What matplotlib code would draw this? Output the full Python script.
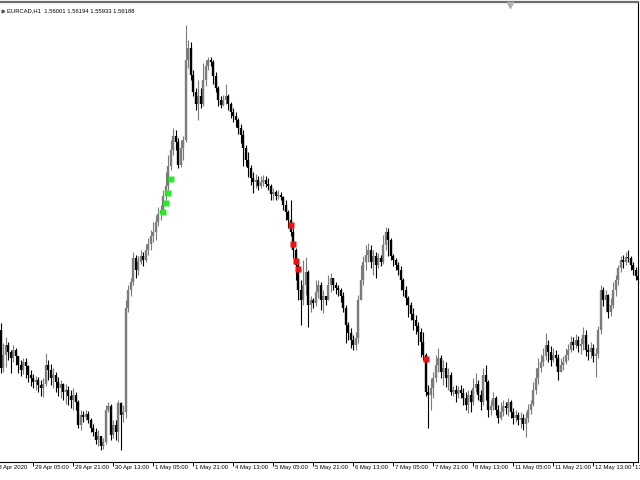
import numpy as np
import matplotlib
matplotlib.use('Agg')
import matplotlib.pyplot as plt
from matplotlib.lines import Line2D
from matplotlib.transforms import ScaledTranslation

# EURCAD H1 candles, 28 Apr 16:00 .. 13 May 2020
symbol = 'EURCAD,H1'
header_quote = ['1.56001', '1.56194', '1.55933', '1.56188']

first_open = 1.5570
close = [
    1.5532, 1.5545, 1.5555, 1.5548, 1.5542, 1.5550, 1.5544, 1.5535, 1.5530, 1.5538,
    1.5534, 1.5525, 1.5522, 1.5518, 1.5520, 1.5515, 1.5512, 1.5516, 1.5535, 1.5530,
    1.5522, 1.5525, 1.5518, 1.5512, 1.5516, 1.5508, 1.5510, 1.5504, 1.5500, 1.5505,
    1.5498, 1.5475, 1.5485, 1.5483, 1.5486, 1.5480, 1.5472, 1.5468, 1.5460, 1.5464,
    1.5454, 1.5458, 1.5490, 1.5494, 1.5465, 1.5475, 1.5468, 1.5497, 1.5485, 1.5488,
    1.5592, 1.5610, 1.5618, 1.5642, 1.5630, 1.5638, 1.5644, 1.5640, 1.5650, 1.5656,
    1.5664, 1.5668, 1.5678, 1.5686, 1.5690, 1.5704, 1.5714, 1.5734, 1.5750, 1.5764,
    1.5758, 1.5735, 1.5752, 1.5760, 1.5840, 1.5852, 1.5825, 1.5808, 1.5796, 1.5804,
    1.5796, 1.5820, 1.5834, 1.5840, 1.5838, 1.5824, 1.5812, 1.5800, 1.5795, 1.5800,
    1.5804, 1.5796, 1.5788, 1.5784, 1.5780, 1.5772, 1.5765, 1.5752, 1.5740, 1.5732,
    1.5722, 1.5718, 1.5720, 1.5714, 1.5718, 1.5720, 1.5716, 1.5714, 1.5706, 1.5708,
    1.5704, 1.5705, 1.5703, 1.5695, 1.5688, 1.5680, 1.5668, 1.5650, 1.5635, 1.5610,
    1.5600, 1.5615, 1.5628, 1.5595, 1.5600, 1.5597, 1.5608, 1.5615, 1.5600, 1.5604,
    1.5600, 1.5615, 1.5622, 1.5615, 1.5612, 1.5610, 1.5604, 1.5592, 1.5575, 1.5567,
    1.5560, 1.5555, 1.5562, 1.5600, 1.5620, 1.5638, 1.5645, 1.5650, 1.5638, 1.5644,
    1.5635, 1.5642, 1.5638, 1.5655, 1.5668, 1.5660, 1.5644, 1.5640, 1.5635, 1.5630,
    1.5620, 1.5610, 1.5602, 1.5595, 1.5586, 1.5580, 1.5574, 1.5568, 1.5558, 1.5545,
    1.5508, 1.5505, 1.5512, 1.5522, 1.5535, 1.5542, 1.5528, 1.5532, 1.5522, 1.5525,
    1.5508, 1.5510, 1.5506, 1.5510, 1.5507, 1.5502, 1.5495, 1.5505, 1.5498, 1.5512,
    1.5516, 1.5505, 1.5498, 1.5525, 1.5518, 1.5490, 1.5494, 1.5502, 1.5490, 1.5482,
    1.5488, 1.5494, 1.5492, 1.5498, 1.5488, 1.5482, 1.5485, 1.5480, 1.5482, 1.5476,
    1.5482, 1.5490, 1.5496, 1.5510, 1.5522, 1.5532, 1.5538, 1.5544, 1.5555, 1.5548,
    1.5540, 1.5545, 1.5542, 1.5528, 1.5535, 1.5538, 1.5545, 1.5550, 1.5558, 1.5555,
    1.5560, 1.5554, 1.5556, 1.5565, 1.5550, 1.5548, 1.5552, 1.5544, 1.5546, 1.5570,
    1.5610, 1.5600, 1.5605, 1.5588, 1.5595, 1.5610, 1.5620, 1.5632, 1.5640, 1.5638,
    1.5643, 1.5642, 1.5635, 1.5630, 1.5624, 1.5620,
]
high = [
    1.5577, 1.5557, 1.5563, 1.5558, 1.5550, 1.5555, 1.5552, 1.5544, 1.5540, 1.5542,
    1.5542, 1.5535, 1.5530, 1.5526, 1.5524, 1.5523, 1.5520, 1.5522, 1.5547, 1.5540,
    1.5536, 1.5532, 1.5528, 1.5523, 1.5520, 1.5517, 1.5516, 1.5514, 1.5510, 1.5512,
    1.5508, 1.5500, 1.5490, 1.5489, 1.5490, 1.5489, 1.5482, 1.5476, 1.5472, 1.5470,
    1.5464, 1.5462, 1.5495, 1.5498, 1.5496, 1.5480, 1.5480, 1.5500, 1.5498, 1.5495,
    1.5600, 1.5615, 1.5622, 1.5648, 1.5645, 1.5644, 1.5650, 1.5648, 1.5656, 1.5662,
    1.5670, 1.5678, 1.5685, 1.5693, 1.5695, 1.5710, 1.5728, 1.5745, 1.5760, 1.5772,
    1.5770, 1.5762, 1.5760, 1.5764, 1.5875, 1.5860, 1.5858, 1.5830, 1.5812, 1.5820,
    1.5812, 1.5837, 1.5840, 1.5843, 1.5843, 1.5840, 1.5828, 1.5814, 1.5804, 1.5805,
    1.5816, 1.5806, 1.5798, 1.5792, 1.5788, 1.5782, 1.5776, 1.5770, 1.5755, 1.5748,
    1.5735, 1.5728, 1.5726, 1.5724, 1.5724, 1.5725, 1.5724, 1.5722, 1.5716, 1.5712,
    1.5710, 1.5710, 1.5708, 1.5704, 1.5700, 1.5690, 1.5700, 1.5672, 1.5652, 1.5638,
    1.5620, 1.5640, 1.5643, 1.5630, 1.5604, 1.5602, 1.5620, 1.5620, 1.5618, 1.5610,
    1.5604, 1.5625, 1.5627, 1.5622, 1.5618, 1.5615, 1.5612, 1.5608, 1.5595, 1.5578,
    1.5572, 1.5565, 1.5568, 1.5605, 1.5635, 1.5644, 1.5655, 1.5657, 1.5655, 1.5650,
    1.5648, 1.5647, 1.5645, 1.5665, 1.5673, 1.5672, 1.5662, 1.5646, 1.5642, 1.5638,
    1.5634, 1.5622, 1.5614, 1.5604, 1.5598, 1.5592, 1.5585, 1.5578, 1.5572, 1.5568,
    1.5547, 1.5515, 1.5522, 1.5528, 1.5545, 1.5552, 1.5545, 1.5540, 1.5538, 1.5532,
    1.5528, 1.5514, 1.5515, 1.5514, 1.5515, 1.5512, 1.5508, 1.5510, 1.5510, 1.5522,
    1.5527, 1.5520, 1.5510, 1.5532, 1.5535, 1.5520, 1.5500, 1.5508, 1.5504, 1.5495,
    1.5498, 1.5500, 1.5498, 1.5502, 1.5500, 1.5492, 1.5490, 1.5488, 1.5488, 1.5486,
    1.5488, 1.5496, 1.5500, 1.5518, 1.5532, 1.5542, 1.5546, 1.5552, 1.5567, 1.5560,
    1.5554, 1.5552, 1.5550, 1.5546, 1.5542, 1.5544, 1.5552, 1.5556, 1.5564, 1.5563,
    1.5566, 1.5564, 1.5562, 1.5573, 1.5570, 1.5556, 1.5558, 1.5556, 1.5552, 1.5574,
    1.5615, 1.5613, 1.5610, 1.5606, 1.5602, 1.5618, 1.5625, 1.5635, 1.5644, 1.5645,
    1.5648, 1.5650, 1.5644, 1.5638, 1.5633, 1.5628,
]
low = [
    1.5527, 1.5528, 1.5533, 1.5540, 1.5527, 1.5538, 1.5535, 1.5527, 1.5524, 1.5526,
    1.5522, 1.5518, 1.5514, 1.5512, 1.5510, 1.5508, 1.5504, 1.5503, 1.5514, 1.5520,
    1.5515, 1.5512, 1.5508, 1.5504, 1.5502, 1.5500, 1.5496, 1.5495, 1.5492, 1.5490,
    1.5490, 1.5472, 1.5470, 1.5478, 1.5480, 1.5477, 1.5468, 1.5464, 1.5456, 1.5454,
    1.5450, 1.5451, 1.5456, 1.5488, 1.5460, 1.5462, 1.5460, 1.5458, 1.5450, 1.5478,
    1.5482, 1.5588, 1.5604, 1.5615, 1.5622, 1.5625, 1.5636, 1.5634, 1.5638, 1.5645,
    1.5650, 1.5658, 1.5660, 1.5674, 1.5680, 1.5686, 1.5700, 1.5710, 1.5730, 1.5745,
    1.5750, 1.5732, 1.5733, 1.5740, 1.5758, 1.5832, 1.5820, 1.5804, 1.5790, 1.5780,
    1.5792, 1.5794, 1.5814, 1.5830, 1.5834, 1.5816, 1.5808, 1.5794, 1.5792, 1.5794,
    1.5796, 1.5790, 1.5782, 1.5778, 1.5773, 1.5766, 1.5757, 1.5734, 1.5734, 1.5723,
    1.5715, 1.5707, 1.5712, 1.5710, 1.5712, 1.5714, 1.5713, 1.5710, 1.5700, 1.5700,
    1.5700, 1.5701, 1.5700, 1.5690, 1.5680, 1.5672, 1.5664, 1.5642, 1.5620, 1.5600,
    1.5575, 1.5595, 1.5605, 1.5573, 1.5588, 1.5592, 1.5594, 1.5602, 1.5590, 1.5587,
    1.5595, 1.5600, 1.5608, 1.5610, 1.5606, 1.5604, 1.5598, 1.5588, 1.5557, 1.5560,
    1.5552, 1.5550, 1.5550, 1.5557, 1.5600, 1.5615, 1.5630, 1.5638, 1.5632, 1.5625,
    1.5622, 1.5632, 1.5634, 1.5636, 1.5650, 1.5644, 1.5640, 1.5634, 1.5630, 1.5625,
    1.5610, 1.5604, 1.5595, 1.5583, 1.5580, 1.5570, 1.5566, 1.5555, 1.5543, 1.5540,
    1.5504, 1.5472, 1.5490, 1.5502, 1.5518, 1.5528, 1.5522, 1.5515, 1.5513, 1.5510,
    1.5505, 1.5504, 1.5498, 1.5502, 1.5502, 1.5495, 1.5490, 1.5487, 1.5488, 1.5495,
    1.5508, 1.5500, 1.5490, 1.5495, 1.5500, 1.5483, 1.5485, 1.5490, 1.5485, 1.5477,
    1.5480, 1.5484, 1.5486, 1.5484, 1.5482, 1.5476, 1.5478, 1.5475, 1.5472, 1.5470,
    1.5463, 1.5478, 1.5486, 1.5494, 1.5506, 1.5516, 1.5528, 1.5534, 1.5540, 1.5538,
    1.5534, 1.5538, 1.5534, 1.5520, 1.5528, 1.5530, 1.5536, 1.5540, 1.5548, 1.5550,
    1.5552, 1.5548, 1.5546, 1.5550, 1.5544, 1.5540, 1.5542, 1.5538, 1.5523, 1.5542,
    1.5566, 1.5594, 1.5588, 1.5582, 1.5584, 1.5592, 1.5604, 1.5615, 1.5628, 1.5632,
    1.5635, 1.5638, 1.5630, 1.5625, 1.5620, 1.5616,
]

tick_bars = [-3, 13, 29, 45, 61, 77, 93, 109, 125, 141, 157, 173, 189, 205, 221, 237, 253]
tick_labels = ['28 Apr 2020', '29 Apr 05:00', '29 Apr 21:00', '30 Apr 13:00', '1 May 05:00',
               '1 May 21:00', '4 May 13:00', '5 May 05:00', '5 May 21:00', '6 May 13:00',
               '7 May 05:00', '7 May 21:00', '8 May 13:00', '11 May 05:00', '11 May 21:00',
               '12 May 13:00', '13 May 05:00']

buy_bars = [65, 66, 67, 68]
buy_price = [1.5688, 1.5697, 1.5707, 1.5721]
sell_bars = [116, 117, 118, 119, 170]
sell_price = [1.5675, 1.5656, 1.5639, 1.5631, 1.5541]

plt.rcParams['font.family'] = ['Liberation Sans', 'DejaVu Sans']

close = np.array(close)
high = np.array(high)
low = np.array(low)
opn = np.r_[first_open, close[:-1]]
x = np.arange(len(close))
up = close >= opn
body_lo = np.minimum(opn, close)
body_hi = np.maximum(np.maximum(opn, close), body_lo + 0.00008)

fig = plt.figure(figsize=(6.4, 4.8), dpi=100)
ax = fig.add_axes([0, 18 / 480, 638 / 640, 460 / 480])

up_col = '#7c7c7c'
dn_col = '#000000'
for mask, col in ((up, up_col), (~up, dn_col)):
    ax.vlines(x[mask], low[mask], high[mask], color=col, lw=0.8)
    ax.vlines(x[mask], body_lo[mask], body_hi[mask], color=col, lw=1.7)

ax.plot(buy_bars, buy_price, 's', color='#22ee22', ms=3.8, mec='none')
ax.plot(sell_bars, sell_price, 's', color='#ee1111', ms=3.8, mec='none')

ax.set_xlim(-0.2, 255.0)
ax.set_ylim(1.5438, 1.5898)
ax.set_yticks([])
ax.set_xticks([t for t in tick_bars if t >= 0])
ax.set_xticklabels([])
ax.tick_params(axis='x', direction='out', length=3, width=0.7, color='black')

# labels sit just right of their tick, as in the terminal
offset = ScaledTranslation(2 / 100, -6 / 100, fig.dpi_scale_trans)
for t, lab in zip(tick_bars, tick_labels):
    ax.text(t, 0, lab, transform=ax.get_xaxis_transform() + offset,
            ha='left', va='center', fontsize=4.3, clip_on=False)

ax.spines['left'].set_visible(False)
ax.spines['right'].set_linewidth(0.8)
ax.spines['bottom'].set_linewidth(0.8)
ax.spines['top'].set_color('#6e6e6e')
ax.spines['top'].set_linewidth(1.6)

fig.text(7 / 640, 1 - 11 / 480, symbol + '  ' + ' '.join(header_quote),
         fontsize=4.2, va='center', ha='left')
fig.add_artist(Line2D([3 / 640], [1 - 11 / 480], marker='>', color='#555555',
                      ms=2, transform=fig.transFigure))
fig.add_artist(Line2D([510 / 640], [1 - 5 / 480], marker='v', color='#b0b0b0',
                      ms=4, transform=fig.transFigure))

fig.savefig('out.png', dpi=100)
